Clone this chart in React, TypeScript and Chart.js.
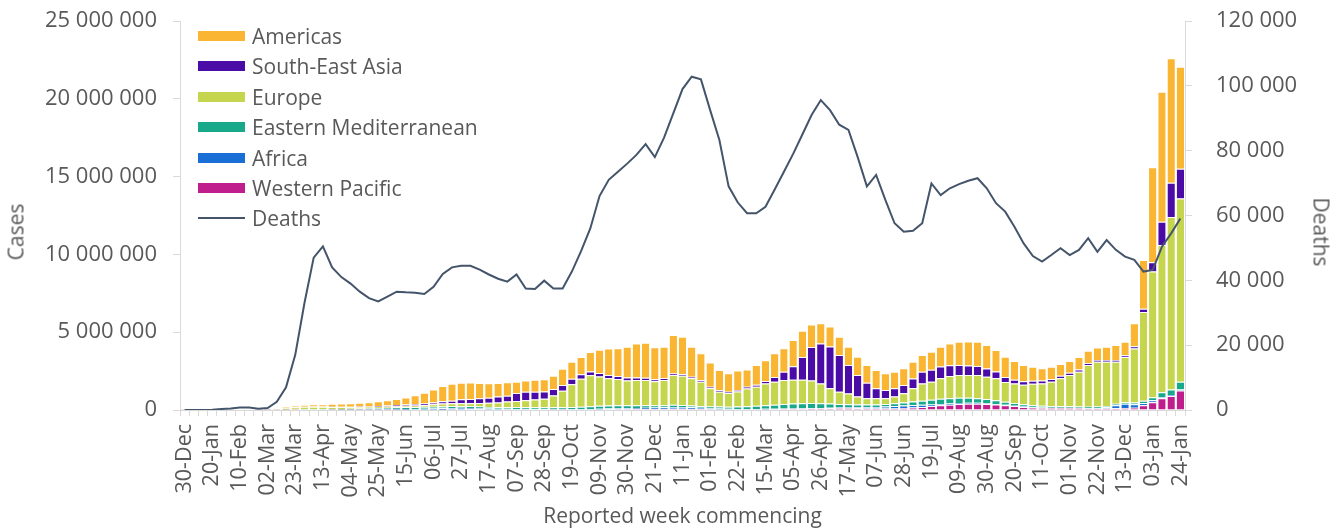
import { useEffect, useRef } from "react";
import { Chart, registerables } from "chart.js";

Chart.register(...registerables);

// Weekly reporting periods, 30 Dec 2019 .. 24 Jan 2022
const weekLabels = [
  "30-Dec", "06-Jan", "13-Jan", "20-Jan", "27-Jan", "03-Feb", "10-Feb", "17-Feb", "24-Feb", "02-Mar",
  "09-Mar", "16-Mar", "23-Mar", "30-Mar", "06-Apr", "13-Apr", "20-Apr", "27-Apr", "04-May", "11-May",
  "18-May", "25-May", "01-Jun", "08-Jun", "15-Jun", "22-Jun", "29-Jun", "06-Jul", "13-Jul", "20-Jul",
  "27-Jul", "03-Aug", "10-Aug", "17-Aug", "24-Aug", "31-Aug", "07-Sep", "14-Sep", "21-Sep", "28-Sep",
  "05-Oct", "12-Oct", "19-Oct", "26-Oct", "02-Nov", "09-Nov", "16-Nov", "23-Nov", "30-Nov", "07-Dec",
  "14-Dec", "21-Dec", "28-Dec", "04-Jan", "11-Jan", "18-Jan", "25-Jan", "01-Feb", "08-Feb", "15-Feb",
  "22-Feb", "01-Mar", "08-Mar", "15-Mar", "22-Mar", "29-Mar", "05-Apr", "12-Apr", "19-Apr", "26-Apr",
  "03-May", "10-May", "17-May", "24-May", "31-May", "07-Jun", "14-Jun", "21-Jun", "28-Jun", "05-Jul",
  "12-Jul", "19-Jul", "26-Jul", "02-Aug", "09-Aug", "16-Aug", "23-Aug", "30-Aug", "06-Sep", "13-Sep",
  "20-Sep", "27-Sep", "04-Oct", "11-Oct", "18-Oct", "25-Oct", "01-Nov", "08-Nov", "15-Nov", "22-Nov",
  "29-Nov", "06-Dec", "13-Dec", "20-Dec", "27-Dec", "03-Jan", "10-Jan", "17-Jan", "24-Jan",
];
const TICK_EVERY = 3;

// weekly cases, millions
const westernPacific = [
  0.00004, 0.00001, 0.0001, 0.0013, 0.011, 0.024, 0.028, 0.011, 0.006, 0.006,
  0.004, 0.004, 0.007, 0.01, 0.012, 0.01, 0.008, 0.006, 0.005, 0.005,
  0.005, 0.005, 0.006, 0.007, 0.008, 0.009, 0.01, 0.014, 0.02, 0.03,
  0.04, 0.045, 0.045, 0.04, 0.035, 0.03, 0.028, 0.026, 0.025, 0.025,
  0.024, 0.024, 0.025, 0.027, 0.03, 0.035, 0.045, 0.05, 0.052, 0.06,
  0.065, 0.07, 0.07, 0.08, 0.08, 0.07, 0.06, 0.05, 0.04, 0.035,
  0.03, 0.03, 0.035, 0.04, 0.045, 0.06, 0.07, 0.08, 0.09, 0.1,
  0.11, 0.12, 0.12, 0.11, 0.1, 0.09, 0.09, 0.1, 0.12, 0.16,
  0.2, 0.25, 0.3, 0.34, 0.38, 0.4, 0.4, 0.38, 0.35, 0.3,
  0.25, 0.2, 0.16, 0.14, 0.13, 0.13, 0.13, 0.12, 0.1, 0.1,
  0.1, 0.11, 0.12, 0.15, 0.3, 0.5, 0.75, 0.9, 1.25,
];
const africa = [
  0, 0, 0, 0, 0, 0, 0, 0, 0, 0,
  0.0003, 0.001, 0.002, 0.004, 0.005, 0.007, 0.009, 0.012, 0.015, 0.02,
  0.025, 0.03, 0.035, 0.04, 0.05, 0.06, 0.07, 0.08, 0.09, 0.1,
  0.1, 0.09, 0.08, 0.06, 0.05, 0.045, 0.04, 0.035, 0.03, 0.03,
  0.03, 0.03, 0.032, 0.035, 0.04, 0.045, 0.05, 0.055, 0.06, 0.07,
  0.08, 0.09, 0.1, 0.12, 0.12, 0.1, 0.08, 0.06, 0.05, 0.04,
  0.035, 0.035, 0.035, 0.035, 0.035, 0.035, 0.03, 0.03, 0.03, 0.03,
  0.035, 0.04, 0.045, 0.06, 0.08, 0.11, 0.14, 0.16, 0.17, 0.16,
  0.13, 0.11, 0.09, 0.08, 0.07, 0.065, 0.06, 0.05, 0.04, 0.035,
  0.03, 0.025, 0.022, 0.02, 0.02, 0.02, 0.02, 0.02, 0.025, 0.03,
  0.07, 0.2, 0.28, 0.22, 0.15, 0.12, 0.09, 0.07, 0.06,
];
const easternMediterranean = [
  0, 0, 0, 0, 0.00001, 0, 0, 0.00005, 0.0005, 0.006,
  0.006, 0.01, 0.02, 0.03, 0.035, 0.04, 0.045, 0.05, 0.06, 0.075,
  0.09, 0.1, 0.11, 0.125, 0.13, 0.13, 0.13, 0.12, 0.115, 0.11,
  0.1, 0.1, 0.1, 0.1, 0.1, 0.105, 0.11, 0.115, 0.12, 0.12,
  0.12, 0.13, 0.14, 0.15, 0.17, 0.19, 0.2, 0.2, 0.19, 0.17,
  0.16, 0.15, 0.14, 0.13, 0.12, 0.12, 0.12, 0.12, 0.13, 0.14,
  0.16, 0.18, 0.2, 0.23, 0.26, 0.29, 0.32, 0.33, 0.33, 0.3,
  0.27, 0.22, 0.2, 0.18, 0.17, 0.16, 0.16, 0.17, 0.19, 0.22,
  0.26, 0.3, 0.33, 0.34, 0.34, 0.32, 0.3, 0.27, 0.24, 0.2,
  0.17, 0.14, 0.12, 0.11, 0.1, 0.1, 0.1, 0.09, 0.09, 0.09,
  0.09, 0.09, 0.1, 0.11, 0.15, 0.2, 0.3, 0.35, 0.5,
];
const europe = [
  0, 0, 0, 0, 0.00001, 0.00001, 0.00002, 0.0001, 0.002, 0.012,
  0.045, 0.12, 0.15, 0.16, 0.155, 0.145, 0.13, 0.115, 0.1, 0.09,
  0.085, 0.08, 0.08, 0.08, 0.085, 0.09, 0.11, 0.15, 0.2, 0.19,
  0.19, 0.195, 0.225, 0.27, 0.305, 0.36, 0.4, 0.445, 0.495, 0.545,
  0.75, 1.05, 1.45, 1.8, 2.0, 1.88, 1.75, 1.68, 1.6, 1.63,
  1.62, 1.54, 1.62, 1.92, 1.88, 1.75, 1.56, 1.17, 0.96, 0.87,
  0.96, 1.14, 1.23, 1.4, 1.48, 1.55, 1.53, 1.51, 1.45, 1.28,
  0.99, 0.8, 0.7, 0.51, 0.4, 0.39, 0.36, 0.43, 0.59, 0.85,
  1.12, 1.16, 1.32, 1.42, 1.46, 1.47, 1.49, 1.44, 1.41, 1.27,
  1.25, 1.26, 1.38, 1.44, 1.57, 1.79, 2.0, 2.23, 2.68, 2.88,
  2.84, 2.7, 2.9, 3.48, 5.7, 8.08, 9.46, 11.08, 11.79,
];
const southEastAsia = [
  0, 0, 0, 0, 0, 0, 0, 0, 0, 0.0003,
  0.0005, 0.001, 0.003, 0.006, 0.01, 0.015, 0.02, 0.025, 0.03, 0.035,
  0.04, 0.05, 0.06, 0.065, 0.075, 0.09, 0.1, 0.12, 0.14, 0.17,
  0.26, 0.27, 0.3, 0.32, 0.37, 0.38, 0.52, 0.55, 0.5, 0.47,
  0.42, 0.38, 0.36, 0.28, 0.24, 0.22, 0.2, 0.2, 0.18, 0.16,
  0.14, 0.12, 0.11, 0.1, 0.1, 0.09, 0.09, 0.09, 0.09, 0.09,
  0.1, 0.11, 0.12, 0.16, 0.3, 0.52, 0.86, 1.45, 2.15, 2.57,
  2.68, 2.35, 1.82, 1.39, 1.0, 0.64, 0.54, 0.54, 0.54, 0.64,
  0.75, 0.77, 0.75, 0.7, 0.64, 0.6, 0.58, 0.52, 0.43, 0.32,
  0.25, 0.22, 0.2, 0.18, 0.17, 0.16, 0.15, 0.14, 0.13, 0.12,
  0.12, 0.12, 0.12, 0.13, 0.2, 0.6, 1.5, 2.2, 1.9,
];
const americas = [
  0, 0, 0, 0, 0.00001, 0.00001, 0.00001, 0.00002, 0.0001, 0.002,
  0.006, 0.04, 0.08, 0.12, 0.145, 0.16, 0.19, 0.21, 0.23, 0.235,
  0.255, 0.295, 0.34, 0.385, 0.45, 0.57, 0.69, 0.84, 0.98, 1.08,
  1.06, 1.06, 0.99, 0.93, 0.88, 0.86, 0.72, 0.73, 0.78, 0.79,
  0.86, 1.04, 1.09, 1.11, 1.24, 1.51, 1.71, 1.78, 1.99, 2.19,
  2.26, 2.06, 2.03, 2.47, 2.41, 1.94, 1.73, 1.57, 1.3, 1.19,
  1.25, 1.11, 1.27, 1.34, 1.52, 1.51, 1.69, 1.7, 1.45, 1.29,
  1.28, 1.18, 1.18, 1.18, 1.14, 1.18, 1.07, 1.06, 1.07, 1.07,
  1.07, 1.16, 1.28, 1.4, 1.5, 1.54, 1.56, 1.51, 1.39, 1.3,
  1.2, 1.05, 0.9, 0.79, 0.79, 0.76, 0.75, 0.8, 0.78, 0.8,
  0.85, 0.96, 0.87, 1.48, 3.14, 6.1, 8.35, 8.0, 6.56,
];
// weekly deaths, thousands
const deaths = [
  0, 0, 0.02, 0.1, 0.3, 0.5, 0.8, 0.8, 0.4, 0.6,
  2.5, 7, 17, 33, 47, 50.5, 44, 41, 39, 36.5,
  34.5, 33.5, 35, 36.5, 36.3, 36.2, 35.8, 38, 42, 44,
  44.5, 44.5, 43.3, 41.8, 40.5, 39.6, 41.8, 37.5, 37.3, 39.9,
  37.5, 37.5, 42.7, 49, 56, 66, 71, 73.5, 76, 78.7,
  82, 78, 84, 91.5, 99, 102.8, 102, 92.5, 83.3, 69,
  64, 60.7, 60.7, 62.7, 68, 73.5, 79, 85, 91, 95.6,
  92.5, 88, 86.4, 78, 69, 72.5, 64.8, 57.6, 55, 55.3,
  57.6, 69.9, 66.3, 68.4, 69.7, 70.7, 71.5, 68.4, 63.8, 61.2,
  56.5, 51.4, 47.5, 45.8, 47.8, 49.9, 47.8, 49.4, 53, 48.8,
  52.4, 49.4, 47.3, 46.3, 42.7, 43.2, 50.4, 54.5, 59.1,
];

const regions = [
  { label: "Western Pacific", data: westernPacific, color: "#BF1E8C" },
  { label: "Africa", data: africa, color: "#1A6FD6" },
  { label: "Eastern Mediterranean", data: easternMediterranean, color: "#17A98A" },
  { label: "Europe", data: europe, color: "#C5D64E" },
  { label: "South-East Asia", data: southEastAsia, color: "#4A0BA6" },
  { label: "Americas", data: americas, color: "#FAB632" },
];
const DEATHS_COLOR = "#44546A";
const TEXT = "#595959";
const AXIS = "#D9D9D9";
const FONT = "'Open Sans', 'Noto Sans', sans-serif";

const spaced = (v: number) => Math.round(v).toString().replace(/\B(?=(\d{3})+(?!\d))/g, " ");

function Legend() {
  const items = [...regions].reverse();
  const rowStyle = (i: number) => ({
    position: "absolute" as const,
    left: 198,
    top: 21 + i * 30.4,
    height: 30,
    display: "flex",
    alignItems: "center",
    whiteSpace: "nowrap" as const,
    fontFamily: FONT,
    fontSize: 21,
    color: TEXT,
  });
  return (
    <>
      {items.map((r, i) => (
        <div key={r.label} style={rowStyle(i)}>
          <span style={{ display: "inline-block", width: 47, height: 10, background: r.color, marginRight: 7 }} />
          {r.label}
        </div>
      ))}
      <div style={rowStyle(items.length)}>
        <span style={{ display: "inline-block", width: 47, height: 2, background: DEATHS_COLOR, marginRight: 7 }} />
        Deaths
      </div>
    </>
  );
}

// rotated axis titles, centred where the reference puts them
function AxisTitle({ text, x, y, angle }: { text: string; x: number; y: number; angle: number }) {
  return (
    <div
      style={{
        position: "absolute",
        left: x,
        top: y,
        transform: `translate(-50%, -50%) rotate(${angle}deg)`,
        fontFamily: FONT,
        fontSize: 21,
        color: TEXT,
        whiteSpace: "nowrap",
        lineHeight: 1,
      }}
    >
      {text}
    </div>
  );
}

// keep the tick padding from pushing the plot area down
const fitVertical = (width: number) => (s: any) => {
  s.width = width;
  s.paddingTop = 0;
  s.paddingBottom = 0;
};

export default function App() {
  const canvasRef = useRef<HTMLCanvasElement>(null);
  const chartRef = useRef<Chart | null>(null);

  useEffect(() => {
    document.body.style.margin = "0";
    if (!canvasRef.current) return;
    const ctx = canvasRef.current.getContext("2d");
    if (!ctx) return;
    if (chartRef.current) chartRef.current.destroy();

    const tickFont = { family: FONT, size: 22 };
    const labelFont = { family: FONT, size: 21.5 };

    chartRef.current = new Chart(ctx, {
      type: "bar",
      data: {
        labels: weekLabels,
        datasets: [
          {
            type: "line",
            label: "Deaths",
            data: deaths.map((d) => d * 1000),
            yAxisID: "y2",
            borderColor: DEATHS_COLOR,
            borderWidth: 2,
            pointRadius: 0,
            tension: 0,
            order: 0,
          } as any,
          ...regions.map((r) => ({
            type: "bar" as const,
            label: r.label,
            data: r.data.map((v) => v * 1e6),
            backgroundColor: r.color,
            borderColor: "#ffffff",
            borderWidth: { top: 1, left: 0, right: 0, bottom: 0 },
            borderSkipped: false,
            barPercentage: 0.8,
            categoryPercentage: 1,
            yAxisID: "y",
            order: 1,
          })),
        ],
      },
      options: {
        animation: false,
        responsive: true,
        maintainAspectRatio: false,
        layout: { padding: { top: 21, left: 0, right: 0, bottom: 0 } },
        plugins: { legend: { display: false }, tooltip: { enabled: false } },
        scales: {
          x: {
            stacked: true,
            grid: { drawOnChartArea: false, drawTicks: true, tickLength: 6, color: AXIS },
            border: { color: AXIS },
            ticks: {
              autoSkip: false,
              minRotation: 90,
              maxRotation: 90,
              padding: 8,
              color: TEXT,
              font: labelFont,
              callback: (_v, i) => (i % TICK_EVERY === 0 ? weekLabels[i] : ""),
            },
            title: {
              display: true,
              text: "Reported week commencing",
              color: TEXT,
              font: { family: FONT, size: 21, lineHeight: 1 },
              padding: { top: 0, bottom: 0 },
            },
            afterFit: (s) => {
              s.height = 118;
            },
          },
          y: {
            stacked: true,
            position: "left",
            min: 0,
            max: 25000000,
            grid: { drawOnChartArea: false, tickLength: 7, color: AXIS },
            border: { color: AXIS },
            ticks: { stepSize: 5000000, padding: 16, color: TEXT, font: tickFont, callback: (v) => spaced(Number(v)) },
            afterFit: fitVertical(180),
          },
          y2: {
            position: "right",
            min: 0,
            max: 120000,
            grid: { drawOnChartArea: false, tickLength: 7, color: AXIS },
            border: { color: AXIS },
            ticks: { stepSize: 20000, padding: 24, color: TEXT, font: tickFont, callback: (v) => spaced(Number(v)) },
            afterFit: fitVertical(154),
          },
        },
      },
    });

    return () => {
      if (chartRef.current) {
        chartRef.current.destroy();
        chartRef.current = null;
      }
    };
  }, []);

  return (
    <div style={{ position: "relative", width: 1339, height: 528, background: "#fff" }}>
      <canvas ref={canvasRef} />
      <Legend />
      <AxisTitle text="Cases" x={16} y={232} angle={-90} />
      <AxisTitle text="Deaths" x={1321} y={232} angle={90} />
    </div>
  );
}
